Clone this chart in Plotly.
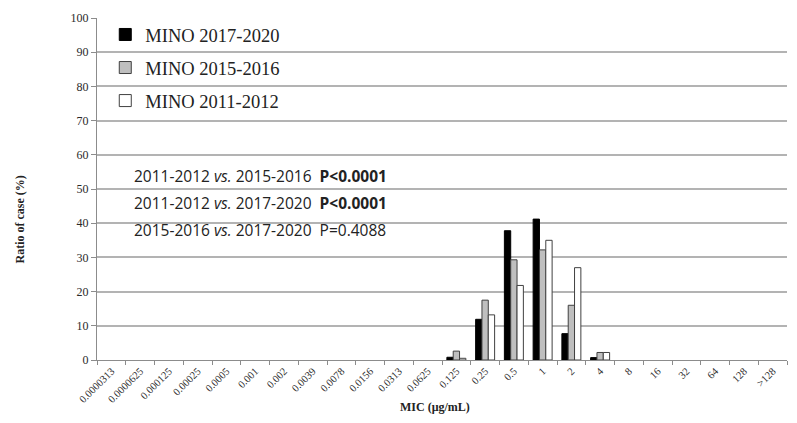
import plotly.graph_objects as go

mic = ["0.0000313", "0.0000625", "0.000125", "0.00025", "0.0005", "0.001", "0.002",
       "0.0039", "0.0078", "0.0156", "0.0313", "0.0625", "0.125", "0.25", "0.5", "1",
       "2", "4", "8", "16", "32", "64", "128", ">128"]

# None = no isolates at that MIC (no bar drawn)
mino_2017_2020 = [None] * 12 + [0.8, 11.9, 37.8, 41.2, 7.7, 0.7] + [None] * 6
mino_2015_2016 = [None] * 12 + [2.6, 17.5, 29.3, 32.2, 16.0, 2.2] + [None] * 6
mino_2011_2012 = [None] * 12 + [0.5, 13.2, 21.8, 35.0, 27.0, 2.2] + [None] * 6

p_lines = [
    "2011-2012 <i>vs.</i> 2015-2016  <b>P&lt;0.0001</b>",
    "2011-2012 <i>vs.</i> 2017-2020  <b>P&lt;0.0001</b>",
    "2015-2016 <i>vs.</i> 2017-2020  P=0.4088",
]

serif = "Liberation Serif"
sans = "Open Sans"

fig = go.Figure()
series = [
    ("MINO 2017-2020", mino_2017_2020, "black", "black"),
    ("MINO 2015-2016", mino_2015_2016, "#bfbfbf", "#404040"),
    ("MINO 2011-2012", mino_2011_2012, "white", "#404040"),
]
for name, vals, fill, edge in series:
    fig.add_trace(go.Bar(x=mic, y=vals, name=name, legendgroup=name,
                         marker=dict(color=fill, line=dict(color=edge, width=1))))

# empty trace so the labelled y axis gets drawn
fig.add_trace(go.Scatter(x=mic, y=[None] * len(mic), yaxis="y2", showlegend=False,
                         hoverinfo="skip", mode="lines"))

# page body has an 8px margin, so the figure is sized to fit inside it
fig.update_layout(
    width=781, height=407,
    margin=dict(l=89, r=2, t=10, b=55),
    paper_bgcolor="white", plot_bgcolor="white",
    barmode="group", bargap=0.34, bargroupgap=0,
    font=dict(family=serif, color="#333333"),
    showlegend=True,
    legend=dict(x=0.012, y=1.006, xanchor="left", yanchor="top",
                font=dict(family=serif, size=18.5, color="#222222"),
                tracegroupgap=6, bgcolor="rgba(0,0,0,0)", traceorder="grouped"),
    xaxis=dict(type="category", showline=True, linecolor="#8c8c8c", linewidth=1,
               ticks="outside", tickson="boundaries", ticklen=4, tickcolor="#8c8c8c",
               tickangle=-45, tickfont=dict(family=serif, size=10.5, color="#2a2a2a"),
               showgrid=False, automargin=False),
    yaxis=dict(range=[0, 100], tickvals=list(range(10, 100, 10)), showgrid=True,
               gridcolor="#b3b3b3", gridwidth=1.5, showticklabels=False, ticks="",
               zeroline=False, showline=False, automargin=False),
    yaxis2=dict(range=[0, 100], overlaying="y", side="left", tickvals=list(range(0, 101, 10)),
                showgrid=False, zeroline=False, showline=True, linecolor="#8c8c8c",
                ticks="outside", ticklen=5, tickcolor="#8c8c8c", automargin=False,
                tickfont=dict(family=serif, size=12, color="#2a2a2a")),
)

# white box behind the p-values
fig.add_shape(type="rect", xref="paper", yref="y", x0=0.036, x1=0.444, y0=32, y1=58,
              fillcolor="white", line=dict(width=0), layer="between")

for i, txt in enumerate(p_lines):
    fig.add_annotation(text=txt, xref="paper", yref="y", x=0.051, y=53.7 - 7.9 * i,
                       xanchor="left", yanchor="middle", showarrow=False,
                       font=dict(family=sans, size=15.5, color="#222222"))

fig.add_annotation(text="<b>Ratio of case (%)</b>", xref="paper", yref="paper",
                   x=-0.125, y=0.41, textangle=-90, showarrow=False,
                   font=dict(family=serif, size=12, color="#222222"))
fig.add_annotation(text="<b>MIC (μg/mL)</b>", xref="paper", yref="paper",
                   x=0.49, y=-0.137, yanchor="middle", showarrow=False,
                   font=dict(family=serif, size=12, color="#222222"))

fig.write_html("out.html")
